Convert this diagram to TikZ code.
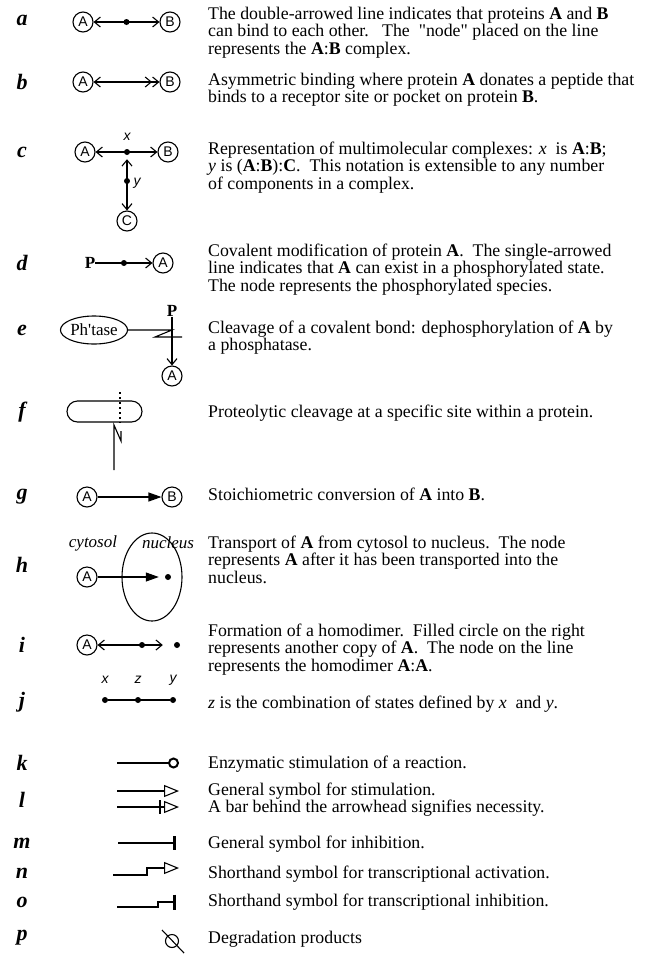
\documentclass[tikz,border=0pt]{standalone}
\usepackage{fontspec}
\setmainfont{Liberation Serif}
\newfontfamily\tms{Liberation Serif}
\newfontfamily\hlv{Liberation Sans}
\usetikzlibrary{arrows.meta,shapes.geometric,shapes.misc}
\begin{document}
\begin{tikzpicture}[x=1pt,y=-1pt,
  every node/.style={inner sep=0pt},
  ln/.style={line width=1.1pt},
  prot/.style={circle,draw,line width=1.1pt,minimum size=20pt,font=\hlv\fontsize{14}{14}\selectfont},
  cplx/.style={circle,fill,minimum size=6pt},
  rowlbl/.style={font=\tms\bfseries\itshape\fontsize{22}{22}\selectfont},
  desc/.style={anchor=base west,align=left,font=\tms\fontsize{17.8}{15.5}\selectfont},
  var/.style={font=\hlv\itshape\fontsize{14}{14}\selectfont},
  bigP/.style={font=\tms\bfseries\fontsize{17}{17}\selectfont},
  itl/.style={font=\tms\itshape\fontsize{17}{17}\selectfont},
  Bb/.tip={Straight Barb[length=6pt,width=10pt]},
  Tf/.tip={Triangle[length=13pt,width=9pt]},
  To/.tip={Triangle[open,length=15pt,width=12pt,line width=1.1pt]},
]
\useasboundingbox (0,0) rectangle (648,954);

% row letters
\node[rowlbl] (la) at (22,20) {a};
\node[rowlbl] (lb) at (22,82) {b};
\node[rowlbl] (lc) at (22,152) {c};
\node[rowlbl] (ld) at (22,263) {d};
\node[rowlbl] (le) at (22,330) {e};
\node[rowlbl] (lf) at (22,412) {f};
\node[rowlbl] (lg) at (22,497) {g};
\node[rowlbl] (lh) at (22,565) {h};
\node[rowlbl] (li) at (22,645) {i};
\node[rowlbl] (lj) at (22,702) {j};
\node[rowlbl] (lk) at (22,763) {k};
\node[rowlbl] (ll) at (22,800) {l};
\node[rowlbl] (lm) at (22,843) {m};
\node[rowlbl] (ln) at (22,873) {n};
\node[rowlbl] (lo) at (22,902) {o};
\node[rowlbl] (lp) at (22,938) {p};

% a
\node[prot] (aA) at (83,22) {A};
\node[prot] (aB) at (170,22) {B};
\draw[ln,Bb-Bb] (aA) -- (aB) node[cplx,pos=0.5] (aAB) {};

% b
\node[prot] (bA) at (83,82) {A};
\node[prot] (bB) at (170,82) {B};
\draw[ln,{Straight Barb[length=6pt,width=10pt]}-{Straight Barb[length=6pt,width=10pt]Straight Barb[length=6pt,width=10pt]}] (bA) -- (bB);

% c
\node[prot] (cA) at (85,152) {A};
\node[prot] (cB) at (168,152) {B};
\node[cplx] (cx) at (127,152) {};
\node[var] (cxl) at (127,137) {x};
\node[prot] (cC) at (127,221) {C};
\node[cplx] (cy) at (127,181) {};
\node[var] (cyl) at (137,183) {y};
\draw[ln,Bb-Bb] (cA) -- (cB);
\draw[ln,Bb-Bb,shorten <=4pt] (cx) -- (cC);

% d
\node[bigP] (dP) at (90,263) {P};
\node[prot] (dA) at (163,263) {A};
\draw[ln,-Bb] (dP) -- (dA) node[cplx,pos=0.5] (dPA) {};

% e
\node[ellipse,draw,line width=1.1pt,minimum width=67pt,minimum height=28pt,font=\tms\fontsize{17}{17}\selectfont] (eph) at (94,330) {Ph'tase};
\node[bigP] (eP) at (172,311) {P};
\node[prot] (eA) at (172,376) {A};
\draw[ln,-Bb] (eP) -- (eA);
\coordinate (ez1) at (172,330);
\coordinate (ez2) at (155,337);
\coordinate (ez3) at (182,337);
\draw[ln] (eph) -- (ez1) -- (ez2) -- (ez3);

% f
\node[rounded rectangle,draw,line width=1.1pt,minimum width=75pt,minimum height=21pt] (fprot) at (104.5,411.5) {};
\coordinate (fd1) at (120,392);
\coordinate (fd2) at (120,423);
\draw[line width=1.2pt,dash pattern=on 2pt off 3pt] (fd1) -- (fd2);
\coordinate (fb0) at (114,470);
\coordinate (fb1) at (114,425);
\coordinate (fb2) at (121,441);
\coordinate (fb3) at (121,431);
\draw[ln] (fb0) -- (fb1) -- (fb2) -- (fb3);

% g
\node[prot] (gA) at (87,497) {A};
\node[prot] (gB) at (172,497) {B};
\draw[ln,-Tf] (gA) -- (gB);

% h
\node[itl] (hcyt) at (93,543) {cytosol};
\node[ellipse,draw,line width=1.1pt,minimum width=60pt,minimum height=88pt] (hnuc) at (152,577) {};
\node[itl] (hnl) at (168,543) {nucleus};
\node[prot] (hA) at (87,577) {A};
\node[cplx] (hd) at (168,577) {};
\draw[ln,-Tf,shorten >=6pt] (hA) -- (hd);

% i
\node[prot] (iA) at (87,645) {A};
\node[cplx] (iAA) at (142,645) {};
\node[cplx] (iA2) at (177,645) {};
\draw[ln,Bb-Bb,shorten >=11pt] (iA) -- (iA2);

% j
\node[cplx] (jx) at (105,700) {};
\node[cplx] (jz) at (138,700) {};
\node[cplx] (jy) at (173,700) {};
\node[var] (jxl) at (105,680) {x};
\node[var] (jzl) at (138,680) {z};
\node[var] (jyl) at (173,680) {y};
\draw[ln] (jx) -- (jy);

% k
\coordinate (k0) at (117,763);
\coordinate (k1) at (179,763);
\draw[ln,-{Circle[open,length=11pt,width=11pt,line width=2pt]}] (k0) -- (k1);

% l
\coordinate (l0) at (117,791);
\coordinate (l1) at (179,791);
\draw[ln,-To] (l0) -- (l1);
\coordinate (l2) at (117,807);
\coordinate (l3) at (179,807);
\draw[ln,-To] (l2) -- (l3);
\coordinate (lb0) at (160,800);
\coordinate (lb1) at (160,814);
\draw[ln] (lb0) -- (lb1);

% m
\coordinate (m0) at (118,843);
\coordinate (m1) at (176,843);
\draw[ln,-{Bar[width=14pt,line width=2.6pt]}] (m0) -- (m1);

% n
\coordinate (n0) at (113,875);
\coordinate (n1) at (147,875);
\coordinate (n2) at (147,868);
\coordinate (n3) at (179,868);
\draw[ln,-To] (n0) -- (n1) -- (n2) -- (n3);

% o
\coordinate (o0) at (117,907);
\coordinate (o1) at (158,907);
\coordinate (o2) at (158,902);
\coordinate (o3) at (176,902);
\draw[ln,-{Bar[width=15pt,line width=2.6pt]}] (o0) -- (o1) -- (o2) -- (o3);

% p
\node[circle,draw,line width=1.1pt,minimum size=13pt] (pc) at (172,941) {};
\coordinate (ps0) at (162,930);
\coordinate (ps1) at (184,953);
\draw[ln] (ps0) -- (ps1);

% descriptions (anchored at the baseline of their last line)
\node[desc] (ta) at (208,54) {The double-arrowed line indicates that proteins \textbf{A} and \textbf{B}\\can bind to each other.\ \ \ The\ \ "node" placed on the line\\represents the \textbf{A}:\textbf{B} complex.};
\node[desc] (tb) at (208,102.5) {Asymmetric binding where protein \textbf{A} donates a peptide that\\binds to a receptor site or pocket on protein \textbf{B}.};
\node[desc] (tc) at (208,189) {Representation of multimolecular complexes: \textit{x}\ \ is \textbf{A}:\textbf{B};\\\textit{y} is (\textbf{A}:\textbf{B}):\textbf{C}.\ \ This notation is extensible to any number\\of components in a complex.};
\node[desc] (td) at (208,291) {Covalent modification of protein \textbf{A}.\ \ The single-arrowed\\line indicates that \textbf{A} can exist in a phosphorylated state.\\The node represents the phosphorylated species.};
\node[desc] (te) at (208,350.5) {Cleavage of a covalent bond: dephosphorylation of \textbf{A} by\\a phosphatase.};
\node[desc] (tf) at (208,417) {Proteolytic cleavage at a specific site within a protein.};
\node[desc] (tg) at (208,500) {Stoichiometric conversion of \textbf{A} into \textbf{B}.};
\node[desc] (th) at (208,583) {Transport of \textbf{A} from cytosol to nucleus.\ \ The node\\represents \textbf{A} after it has been transported into the\\nucleus.};
\node[desc] (ti) at (208,671) {Formation of a homodimer.\ \ Filled circle on the right\\represents another copy of \textbf{A}.\ \ The node on the line\\represents the homodimer \textbf{A}:\textbf{A}.};
\node[desc] (tj) at (208,708) {\textit{z} is the combination of states defined by \textit{x}\ \ and \textit{y}.};
\node[desc] (tk) at (208,768) {Enzymatic stimulation of a reaction.};
\node[desc] (tl) at (208,812.5) {General symbol for stimulation.\\A bar behind the arrowhead signifies necessity.};
\node[desc] (tm) at (208,848) {General symbol for inhibition.};
\node[desc] (tn) at (208,878) {Shorthand symbol for transcriptional activation.};
\node[desc] (to) at (208,906) {Shorthand symbol for transcriptional inhibition.};
\node[desc] (tp) at (208,943) {Degradation products};
\end{tikzpicture}
\end{document}
